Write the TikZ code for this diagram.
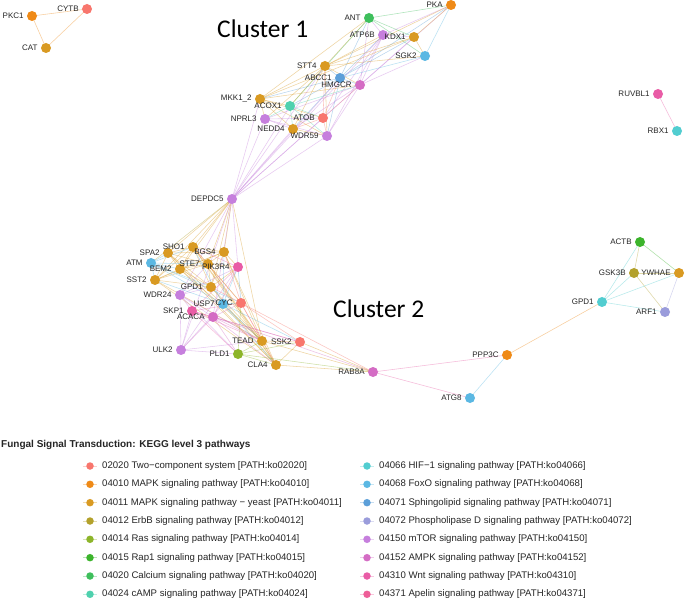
\documentclass[tikz,border=0pt]{standalone}
\usepackage{fontspec}
\setmainfont{Liberation Sans}
\newfontfamily\clfont{Carlito}
\pgfdeclarelayer{back}
\pgfdeclarelayer{bg}
\pgfsetlayers{back,bg,main}
\definecolor{cA}{HTML}{F8766D}
\definecolor{cB}{HTML}{EF8A17}
\definecolor{cC}{HTML}{D99A22}
\definecolor{cD}{HTML}{B3A12B}
\definecolor{cE}{HTML}{8DB52A}
\definecolor{cF}{HTML}{3CB42C}
\definecolor{cG}{HTML}{3EBF5C}
\definecolor{cH}{HTML}{4FD1AE}
\definecolor{cI}{HTML}{52CDD0}
\definecolor{cJ}{HTML}{5BB8E3}
\definecolor{cK}{HTML}{5C9FD9}
\definecolor{cL}{HTML}{9A9CDB}
\definecolor{cM}{HTML}{C67FDD}
\definecolor{cN}{HTML}{D46CC4}
\definecolor{cO}{HTML}{E95CA6}
\definecolor{cP}{HTML}{EE5E98}
\tikzset{
  nd/.style={circle,fill=#1,draw=none,inner sep=0pt,minimum size=10pt},
  lbl/.style={font=\fontsize{8}{9}\selectfont,text=black!85,inner sep=0.5pt,label distance=2.5pt},
  conn/.style={draw=#1,draw opacity=0.42,line width=0.55pt},
  legdot/.style={circle,fill=#1,inner sep=0pt,minimum size=7.5pt},
  legtxt/.style={font=\fontsize{9.6}{11}\selectfont,text=black!85,anchor=west,inner sep=0pt},
  cluster/.style={font=\clfont\fontsize{25.5}{30}\selectfont,anchor=base west,inner sep=0pt}
}
\newcommand\mynode[4]{\node[nd=#4,label={[lbl]left:#2}] (#1) at (#3) {};}
\newcommand\myedge[3]{\draw[conn=#3] (#1.center) -- (#2.center);}
\newcommand\legitem[5]{%
  \node[legdot=#3] (#4) at (#1,#2) {};
  \coordinate (#4a) at (#1-7,#2);
  \coordinate (#4b) at (#1+7,#2);
  \begin{pgfonlayer}{bg}\draw[draw=#3,draw opacity=0.35,line width=0.8pt] (#4a) -- (#4b);\end{pgfonlayer}
  \node[legtxt] (#4t) at (#1+12,#2) {#5};}
\begin{document}
\begin{tikzpicture}[x=1pt,y=-1pt]
\useasboundingbox (0,0) rectangle (685,601);
\begin{pgfonlayer}{back}
\fill[white] (0,0) rectangle (685,601);
\end{pgfonlayer}
% ---------- nodes
\mynode{PKC1}{PKC1}{32,16}{cB}
\mynode{CYTB}{CYTB}{87,9}{cA}
\mynode{CAT}{CAT}{46,48}{cC}
% cluster 1
\mynode{PKA}{PKA}{451,5}{cB}
\mynode{ANT}{ANT}{369,18}{cG}
\mynode{ATP6B}{ATP6B}{383,35}{cM}
\mynode{KDX1}{KDX1}{414,37}{cC}
\mynode{SGK2}{SGK2}{425,56}{cJ}
\mynode{STT4}{STT4}{325,66}{cC}
\mynode{ABCC1}{ABCC1}{340,78}{cK}
\mynode{HMGCR}{HMGCR}{360,85}{cN}
\mynode{MKK}{MKK1\_2}{260,99}{cC}
\mynode{ACOX1}{ACOX1}{290,106}{cH}
\mynode{NPRL3}{NPRL3}{265,119}{cM}
\mynode{ATOB}{ATOB}{323,118}{cA}
\mynode{NEDD4}{NEDD4}{293,129}{cC}
\mynode{WDR59}{WDR59}{327,136}{cM}
\mynode{DEPDC5}{DEPDC5}{232,199}{cM}
% cluster 2
\mynode{SPA2}{SPA2}{168,253}{cC}
\mynode{SHO1}{SHO1}{193,247}{cC}
\mynode{BGS4}{BGS4}{224,252}{cC}
\mynode{ATM}{ATM}{151,263}{cJ}
\mynode{BEM2}{BEM2}{180,269}{cC}
\mynode{STE7}{STE7}{208,264}{cC}
\mynode{PIK3R4}{PIK3R4}{238,267}{cO}
\mynode{SST2}{SST2}{155,280}{cC}
\mynode{GPD1}{GPD1}{211,287}{cC}
\mynode{WDR24}{WDR24}{180,295}{cM}
\mynode{USP7}{USP7}{223,304}{cJ}
\mynode{CYC}{CYC}{241,303}{cA}
\mynode{SKP1}{SKP1}{192,311}{cO}
\mynode{ACACA}{ACACA}{213,317}{cN}
\mynode{TEAD}{TEAD}{262,341}{cC}
\mynode{SSK2}{SSK2}{300,342}{cA}
\mynode{ULK2}{ULK2}{181,350}{cM}
\mynode{PLD1}{PLD1}{238,354}{cE}
\mynode{CLA4}{CLA4}{276,365}{cC}
\mynode{RAB8A}{RAB8A}{373,372}{cN}
\mynode{PPP3C}{PPP3C}{507,355}{cB}
\mynode{ATG8}{ATG8}{470,398}{cJ}
% right
\mynode{RUVBL1}{RUVBL1}{658,94}{cO}
\mynode{RBX1}{RBX1}{677,131}{cI}
\mynode{ACTB}{ACTB}{640,242}{cF}
\mynode{GSK3B}{GSK3B}{634,273}{cD}
\mynode{YWHAE}{YWHAE}{679,273}{cC}
\mynode{GPDr}{GPD1}{602,302}{cI}
\mynode{ARF1}{ARF1}{665,312}{cL}
% cluster labels
\node[cluster] (cl1) at (217,38) {Cluster 1};
\node[cluster] (cl2) at (333,318) {Cluster 2};
% ---------- edges
\begin{pgfonlayer}{bg}
\myedge{PKC1}{CYTB}{cB}\myedge{PKC1}{CAT}{cB}\myedge{CAT}{CYTB}{cB}
\myedge{RUVBL1}{RBX1}{cO}
\myedge{ACTB}{GSK3B}{cD}\myedge{ACTB}{YWHAE}{cF}\myedge{ACTB}{GPDr}{cI}
\myedge{GSK3B}{YWHAE}{cD}\myedge{GSK3B}{ARF1}{cD}\myedge{GSK3B}{GPDr}{cI}
\myedge{YWHAE}{GPDr}{cI}\myedge{YWHAE}{ARF1}{cL}\myedge{ARF1}{GPDr}{cI}
\myedge{GPDr}{PPP3C}{cB}\myedge{PPP3C}{RAB8A}{cO}\myedge{PPP3C}{ATG8}{cJ}\myedge{RAB8A}{ATG8}{cO}
% cluster 1
\myedge{PKA}{ANT}{cG}\myedge{PKA}{ATP6B}{cM}\myedge{PKA}{SGK2}{cJ}\myedge{PKA}{STT4}{cC}
\myedge{PKA}{HMGCR}{cM}\myedge{PKA}{KDX1}{cC}\myedge{PKA}{ABCC1}{cK}
\myedge{ANT}{ATP6B}{cM}\myedge{ANT}{KDX1}{cG}\myedge{ANT}{SGK2}{cG}\myedge{ANT}{STT4}{cC}
\myedge{ANT}{ABCC1}{cK}\myedge{ANT}{HMGCR}{cM}\myedge{ANT}{ACOX1}{cG}\myedge{ANT}{MKK}{cC}
\myedge{ATP6B}{KDX1}{cM}\myedge{ATP6B}{STT4}{cC}\myedge{ATP6B}{HMGCR}{cM}\myedge{ATP6B}{ATOB}{cM}
\myedge{ATP6B}{WDR59}{cM}\myedge{ATP6B}{ABCC1}{cK}
\myedge{KDX1}{SGK2}{cC}\myedge{KDX1}{STT4}{cC}\myedge{KDX1}{ABCC1}{cK}\myedge{KDX1}{HMGCR}{cM}\myedge{KDX1}{MKK}{cC}
\myedge{SGK2}{STT4}{cC}\myedge{SGK2}{ABCC1}{cJ}\myedge{SGK2}{HMGCR}{cM}
\myedge{STT4}{ABCC1}{cK}\myedge{STT4}{HMGCR}{cC}\myedge{STT4}{MKK}{cC}\myedge{STT4}{ACOX1}{cC}
\myedge{STT4}{ATOB}{cA}\myedge{STT4}{NEDD4}{cC}\myedge{STT4}{WDR59}{cC}\myedge{STT4}{NPRL3}{cC}
\myedge{ABCC1}{HMGCR}{cK}\myedge{ABCC1}{MKK}{cK}\myedge{ABCC1}{ACOX1}{cK}\myedge{ABCC1}{ATOB}{cA}
\myedge{ABCC1}{NEDD4}{cK}\myedge{ABCC1}{WDR59}{cK}
\myedge{HMGCR}{MKK}{cC}\myedge{HMGCR}{ACOX1}{cH}\myedge{HMGCR}{ATOB}{cA}\myedge{HMGCR}{NEDD4}{cM}
\myedge{HMGCR}{WDR59}{cM}\myedge{HMGCR}{NPRL3}{cM}
\myedge{MKK}{ACOX1}{cC}\myedge{MKK}{NPRL3}{cC}\myedge{MKK}{ATOB}{cC}\myedge{MKK}{NEDD4}{cC}\myedge{MKK}{WDR59}{cC}
\myedge{ACOX1}{NPRL3}{cH}\myedge{ACOX1}{ATOB}{cH}\myedge{ACOX1}{NEDD4}{cH}\myedge{ACOX1}{WDR59}{cH}
\myedge{NPRL3}{ATOB}{cM}\myedge{NPRL3}{NEDD4}{cM}\myedge{NPRL3}{WDR59}{cM}
\myedge{ATOB}{NEDD4}{cA}\myedge{ATOB}{WDR59}{cA}\myedge{NEDD4}{WDR59}{cC}
% DEPDC5
\myedge{DEPDC5}{NPRL3}{cM}\myedge{DEPDC5}{NEDD4}{cM}\myedge{DEPDC5}{WDR59}{cM}\myedge{DEPDC5}{MKK}{cM}
\myedge{DEPDC5}{ACOX1}{cM}\myedge{DEPDC5}{ATOB}{cM}\myedge{DEPDC5}{HMGCR}{cM}\myedge{DEPDC5}{STT4}{cM}
\myedge{DEPDC5}{ABCC1}{cM}\myedge{DEPDC5}{ATP6B}{cM}
\myedge{DEPDC5}{SPA2}{cC}\myedge{DEPDC5}{SHO1}{cC}\myedge{DEPDC5}{BGS4}{cC}\myedge{DEPDC5}{BEM2}{cC}
\myedge{DEPDC5}{STE7}{cC}\myedge{DEPDC5}{SST2}{cC}\myedge{DEPDC5}{GPD1}{cC}\myedge{DEPDC5}{TEAD}{cC}
\myedge{DEPDC5}{ATM}{cD}\myedge{DEPDC5}{WDR24}{cM}\myedge{DEPDC5}{ULK2}{cM}\myedge{DEPDC5}{ACACA}{cM}
\myedge{DEPDC5}{PIK3R4}{cM}
% cluster 2 gold group
\myedge{SPA2}{SHO1}{cC}\myedge{SPA2}{BGS4}{cC}\myedge{SPA2}{BEM2}{cC}\myedge{SPA2}{STE7}{cC}\myedge{SPA2}{SST2}{cC}
\myedge{SPA2}{GPD1}{cC}\myedge{SPA2}{TEAD}{cC}\myedge{SPA2}{CLA4}{cC}
\myedge{SHO1}{BGS4}{cC}\myedge{SHO1}{BEM2}{cC}\myedge{SHO1}{STE7}{cC}\myedge{SHO1}{SST2}{cC}\myedge{SHO1}{GPD1}{cC}
\myedge{SHO1}{TEAD}{cC}\myedge{SHO1}{CLA4}{cC}
\myedge{BGS4}{BEM2}{cC}\myedge{BGS4}{STE7}{cC}\myedge{BGS4}{SST2}{cC}\myedge{BGS4}{GPD1}{cC}\myedge{BGS4}{TEAD}{cC}
\myedge{BGS4}{CLA4}{cC}
\myedge{BEM2}{STE7}{cC}\myedge{BEM2}{SST2}{cC}\myedge{BEM2}{GPD1}{cC}\myedge{BEM2}{TEAD}{cC}\myedge{BEM2}{CLA4}{cC}
\myedge{STE7}{SST2}{cC}\myedge{STE7}{GPD1}{cC}\myedge{STE7}{TEAD}{cC}\myedge{STE7}{CLA4}{cC}
\myedge{SST2}{GPD1}{cC}\myedge{SST2}{TEAD}{cC}\myedge{SST2}{CLA4}{cC}
\myedge{GPD1}{TEAD}{cC}\myedge{GPD1}{CLA4}{cC}\myedge{TEAD}{CLA4}{cC}
% ATM
\myedge{ATM}{SPA2}{cJ}\myedge{ATM}{SHO1}{cJ}\myedge{ATM}{BEM2}{cJ}\myedge{ATM}{SST2}{cJ}\myedge{ATM}{STE7}{cJ}
\myedge{ATM}{GPD1}{cJ}\myedge{ATM}{CYC}{cJ}\myedge{ATM}{USP7}{cJ}
% PIK3R4
\myedge{PIK3R4}{SHO1}{cO}\myedge{PIK3R4}{BGS4}{cC}\myedge{PIK3R4}{STE7}{cC}\myedge{PIK3R4}{GPD1}{cC}
\myedge{PIK3R4}{CYC}{cK}\myedge{PIK3R4}{ACACA}{cO}\myedge{PIK3R4}{WDR24}{cM}\myedge{PIK3R4}{ULK2}{cM}
\myedge{PIK3R4}{SKP1}{cO}\myedge{PIK3R4}{USP7}{cJ}
% WDR24
\myedge{WDR24}{ULK2}{cM}\myedge{WDR24}{ACACA}{cM}\myedge{WDR24}{SKP1}{cM}\myedge{WDR24}{GPD1}{cM}
\myedge{WDR24}{STE7}{cM}\myedge{WDR24}{TEAD}{cM}\myedge{WDR24}{PLD1}{cM}
% USP7
\myedge{USP7}{CYC}{cJ}\myedge{USP7}{SSK2}{cJ}\myedge{USP7}{TEAD}{cJ}\myedge{USP7}{CLA4}{cJ}
\myedge{USP7}{BGS4}{cJ}\myedge{USP7}{SHO1}{cJ}\myedge{USP7}{SST2}{cJ}
% CYC
\myedge{CYC}{SSK2}{cA}\myedge{CYC}{TEAD}{cA}\myedge{CYC}{CLA4}{cA}\myedge{CYC}{RAB8A}{cA}
\myedge{CYC}{SHO1}{cA}\myedge{CYC}{BGS4}{cA}\myedge{CYC}{STE7}{cC}\myedge{CYC}{GPD1}{cA}\myedge{CYC}{PLD1}{cE}
% SKP1, ACACA, ULK2
\myedge{SKP1}{ACACA}{cO}\myedge{SKP1}{ULK2}{cM}\myedge{SKP1}{TEAD}{cO}\myedge{SKP1}{PLD1}{cO}
\myedge{SKP1}{SSK2}{cO}\myedge{SKP1}{CYC}{cO}
\myedge{ACACA}{ULK2}{cN}\myedge{ACACA}{PLD1}{cN}\myedge{ACACA}{TEAD}{cN}\myedge{ACACA}{SSK2}{cN}
\myedge{ACACA}{RAB8A}{cN}\myedge{ACACA}{CYC}{cN}\myedge{ACACA}{CLA4}{cN}
\myedge{ULK2}{PLD1}{cM}\myedge{ULK2}{TEAD}{cM}\myedge{ULK2}{USP7}{cM}
% lower
\myedge{PLD1}{TEAD}{cE}\myedge{PLD1}{CLA4}{cE}\myedge{PLD1}{SSK2}{cE}\myedge{PLD1}{RAB8A}{cE}
\myedge{TEAD}{SSK2}{cC}\myedge{TEAD}{RAB8A}{cC}\myedge{SSK2}{CLA4}{cC}\myedge{SSK2}{RAB8A}{cC}
\myedge{CLA4}{RAB8A}{cC}
\end{pgfonlayer}
% ---------- legend
\node[font=\bfseries\fontsize{10}{12}\selectfont,anchor=base west,inner sep=0pt,text=black!85] (ltitle) at (1,447.5) {Fungal Signal Transduction: KEGG level 3 pathways};
\legitem{90}{466}{cA}{l1}{02020 Two\textminus component system [PATH:ko02020]}
\legitem{90}{484.3}{cB}{l2}{04010 MAPK signaling pathway [PATH:ko04010]}
\legitem{90}{502.7}{cC}{l3}{04011 MAPK signaling pathway \textminus\ yeast [PATH:ko04011]}
\legitem{90}{521}{cD}{l4}{04012 ErbB signaling pathway [PATH:ko04012]}
\legitem{90}{539.3}{cE}{l5}{04014 Ras signaling pathway [PATH:ko04014]}
\legitem{90}{557.7}{cF}{l6}{04015 Rap1 signaling pathway [PATH:ko04015]}
\legitem{90}{576}{cG}{l7}{04020 Calcium signaling pathway [PATH:ko04020]}
\legitem{90}{594.3}{cH}{l8}{04024 cAMP signaling pathway [PATH:ko04024]}
\legitem{367}{466}{cI}{r1}{04066 HIF\textminus 1 signaling pathway [PATH:ko04066]}
\legitem{367}{484.3}{cJ}{r2}{04068 FoxO signaling pathway [PATH:ko04068]}
\legitem{367}{502.7}{cK}{r3}{04071 Sphingolipid signaling pathway [PATH:ko04071]}
\legitem{367}{521}{cL}{r4}{04072 Phospholipase D signaling pathway [PATH:ko04072]}
\legitem{367}{539.3}{cM}{r5}{04150 mTOR signaling pathway [PATH:ko04150]}
\legitem{367}{557.7}{cN}{r6}{04152 AMPK signaling pathway [PATH:ko04152]}
\legitem{367}{576}{cO}{r7}{04310 Wnt signaling pathway [PATH:ko04310]}
\legitem{367}{594.3}{cP}{r8}{04371 Apelin signaling pathway [PATH:ko04371]}
\end{tikzpicture}
\end{document}
